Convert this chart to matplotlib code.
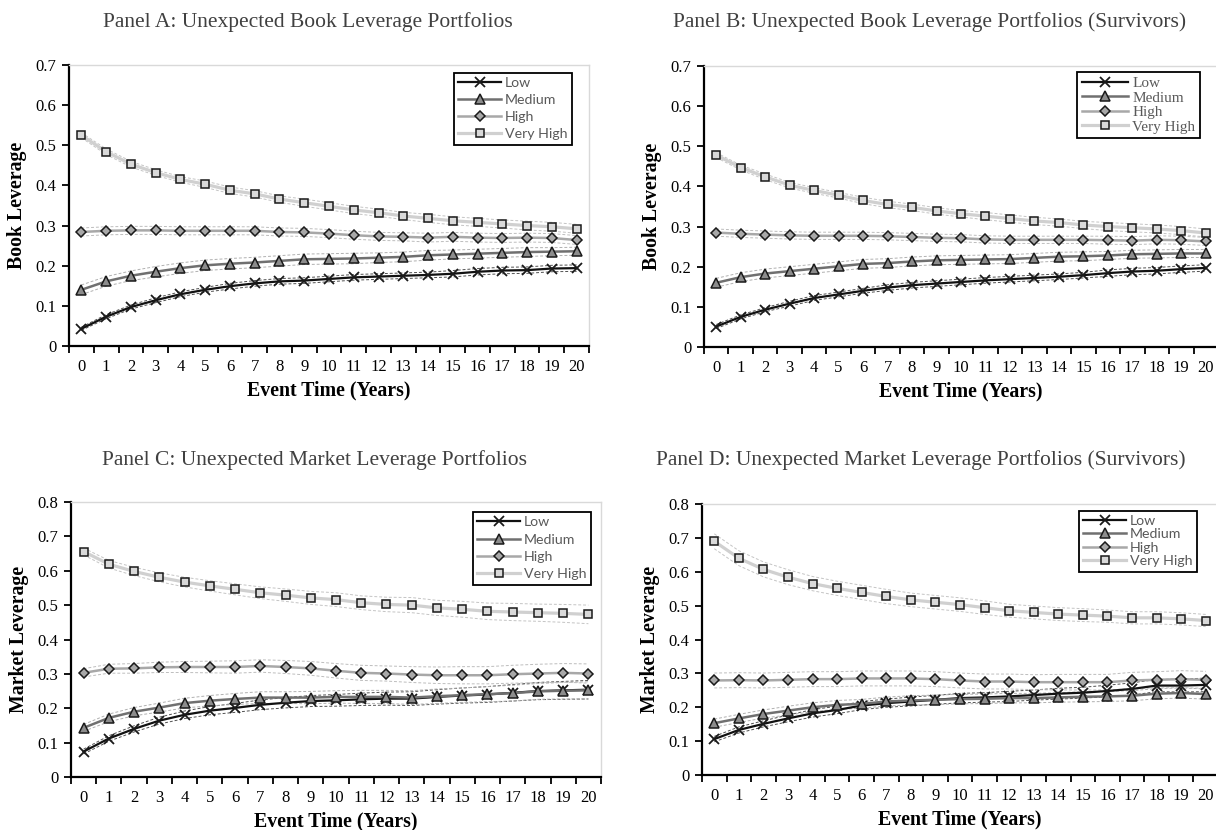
import matplotlib
matplotlib.use("Agg")
import matplotlib.pyplot as plt
import numpy as np

years = list(range(21))
series_names = ["Low", "Medium", "High", "Very High"]

# Panel A: unexpected book leverage portfolios
low_a = [0.043, 0.073, 0.097, 0.114, 0.129, 0.140, 0.149, 0.156, 0.161, 0.163, 0.167,
         0.171, 0.173, 0.175, 0.177, 0.180, 0.185, 0.188, 0.189, 0.193, 0.194]
med_a = [0.140, 0.161, 0.175, 0.185, 0.194, 0.201, 0.205, 0.208, 0.212, 0.216, 0.217,
         0.218, 0.220, 0.222, 0.226, 0.228, 0.230, 0.232, 0.234, 0.235, 0.236]
high_a = [0.284, 0.287, 0.288, 0.288, 0.287, 0.287, 0.287, 0.287, 0.284, 0.283, 0.280,
          0.276, 0.273, 0.272, 0.270, 0.272, 0.270, 0.269, 0.270, 0.269, 0.264]
vhigh_a = [0.525, 0.484, 0.453, 0.432, 0.415, 0.403, 0.388, 0.379, 0.366, 0.357, 0.348,
           0.339, 0.332, 0.324, 0.318, 0.312, 0.308, 0.304, 0.300, 0.297, 0.292]

# Panel B: book leverage, survivors
low_b = [0.051, 0.075, 0.093, 0.108, 0.122, 0.131, 0.140, 0.148, 0.154, 0.158, 0.162,
         0.166, 0.169, 0.172, 0.175, 0.179, 0.184, 0.188, 0.190, 0.194, 0.197]
med_b = [0.160, 0.174, 0.183, 0.189, 0.195, 0.201, 0.207, 0.209, 0.213, 0.216, 0.217,
         0.218, 0.219, 0.222, 0.225, 0.226, 0.228, 0.231, 0.232, 0.233, 0.233]
high_b = [0.285, 0.282, 0.280, 0.278, 0.277, 0.277, 0.277, 0.276, 0.274, 0.272, 0.271,
          0.268, 0.267, 0.267, 0.267, 0.267, 0.266, 0.265, 0.267, 0.266, 0.263]
vhigh_b = [0.478, 0.447, 0.424, 0.403, 0.390, 0.378, 0.365, 0.355, 0.348, 0.339, 0.332,
           0.326, 0.320, 0.314, 0.310, 0.304, 0.300, 0.297, 0.294, 0.290, 0.284]

# Panel C: unexpected market leverage portfolios
low_c = [0.074, 0.112, 0.140, 0.164, 0.181, 0.193, 0.201, 0.210, 0.216, 0.221, 0.223,
         0.226, 0.228, 0.228, 0.233, 0.237, 0.240, 0.245, 0.250, 0.252, 0.254]
med_c = [0.143, 0.172, 0.190, 0.202, 0.215, 0.222, 0.227, 0.231, 0.231, 0.231, 0.233,
         0.233, 0.233, 0.231, 0.235, 0.238, 0.241, 0.244, 0.249, 0.251, 0.252]
high_c = [0.303, 0.315, 0.316, 0.319, 0.320, 0.320, 0.320, 0.323, 0.320, 0.316, 0.309,
          0.303, 0.301, 0.298, 0.296, 0.296, 0.296, 0.299, 0.301, 0.303, 0.301]
vhigh_c = [0.656, 0.619, 0.598, 0.581, 0.567, 0.556, 0.546, 0.536, 0.529, 0.521, 0.516,
           0.507, 0.502, 0.500, 0.492, 0.488, 0.482, 0.480, 0.478, 0.476, 0.473]

# Panel D: market leverage, survivors
low_d = [0.106, 0.133, 0.151, 0.167, 0.182, 0.192, 0.205, 0.212, 0.217, 0.222, 0.227,
         0.229, 0.232, 0.236, 0.240, 0.243, 0.248, 0.254, 0.264, 0.264, 0.266]
med_d = [0.153, 0.167, 0.180, 0.190, 0.200, 0.207, 0.210, 0.217, 0.220, 0.222, 0.224,
         0.225, 0.227, 0.227, 0.229, 0.231, 0.232, 0.234, 0.240, 0.242, 0.239]
high_d = [0.279, 0.280, 0.279, 0.281, 0.283, 0.283, 0.285, 0.285, 0.285, 0.283, 0.279,
          0.276, 0.276, 0.274, 0.274, 0.274, 0.274, 0.279, 0.281, 0.283, 0.281]
vhigh_d = [0.690, 0.640, 0.607, 0.584, 0.565, 0.551, 0.539, 0.527, 0.517, 0.510, 0.503,
           0.494, 0.485, 0.480, 0.475, 0.472, 0.469, 0.464, 0.464, 0.461, 0.456]

# half widths of the dashed confidence bands
low_a_hw = [0.004, 0.005, 0.005, 0.006, 0.006, 0.006, 0.007, 0.007, 0.007, 0.007, 0.007,
            0.007, 0.007, 0.007, 0.007, 0.008, 0.008, 0.008, 0.008, 0.008, 0.008]
med_a_hw = [0.012, 0.012, 0.012, 0.013, 0.013, 0.013, 0.013, 0.013, 0.013, 0.013, 0.013,
            0.013, 0.012, 0.012, 0.012, 0.011, 0.011, 0.011, 0.011, 0.010, 0.010]
high_a_hw = [0.010, 0.010, 0.010, 0.010, 0.010, 0.010, 0.010, 0.010, 0.010, 0.010, 0.010,
             0.010, 0.010, 0.010, 0.011, 0.011, 0.011, 0.011, 0.011, 0.011, 0.011]
vhigh_a_hw = [0.006, 0.007, 0.007, 0.007, 0.007, 0.008, 0.008, 0.008, 0.008, 0.009, 0.009,
              0.009, 0.009, 0.009, 0.010, 0.010, 0.010, 0.010, 0.011, 0.011, 0.011]

low_b_hw = [0.005, 0.005, 0.005, 0.006, 0.006, 0.006, 0.006, 0.007, 0.007, 0.007, 0.007,
            0.007, 0.007, 0.007, 0.007, 0.007, 0.008, 0.008, 0.008, 0.008, 0.008]
med_b_hw = [0.011, 0.011, 0.011, 0.011, 0.011, 0.011, 0.011, 0.011, 0.011, 0.011, 0.011,
            0.011, 0.011, 0.011, 0.011, 0.011, 0.010, 0.010, 0.010, 0.010, 0.010]
high_b_hw = [0.009, 0.009, 0.009, 0.009, 0.009, 0.009, 0.009, 0.009, 0.009, 0.009, 0.009,
             0.009, 0.009, 0.009, 0.009, 0.009, 0.010, 0.010, 0.010, 0.010, 0.010]
vhigh_b_hw = [0.006, 0.006, 0.007, 0.007, 0.007, 0.007, 0.008, 0.008, 0.008, 0.008, 0.008,
              0.009, 0.009, 0.009, 0.009, 0.009, 0.010, 0.010, 0.010, 0.010, 0.010]

low_c_hw = [0.007, 0.008, 0.009, 0.010, 0.011, 0.012, 0.013, 0.014, 0.015, 0.016, 0.017,
            0.018, 0.019, 0.020, 0.021, 0.022, 0.023, 0.024, 0.025, 0.026, 0.027]
med_c_hw = [0.010, 0.011, 0.012, 0.013, 0.014, 0.015, 0.016, 0.017, 0.017, 0.018, 0.018,
            0.019, 0.019, 0.020, 0.021, 0.021, 0.022, 0.023, 0.023, 0.024, 0.025]
high_c_hw = [0.012, 0.013, 0.014, 0.015, 0.016, 0.017, 0.018, 0.018, 0.019, 0.020, 0.021,
             0.022, 0.022, 0.023, 0.024, 0.025, 0.025, 0.026, 0.027, 0.027, 0.028]
vhigh_c_hw = [0.010, 0.011, 0.012, 0.013, 0.014, 0.015, 0.016, 0.017, 0.018, 0.019, 0.020,
              0.020, 0.021, 0.022, 0.022, 0.023, 0.024, 0.025, 0.025, 0.026, 0.027]

low_d_hw = [0.008, 0.009, 0.009, 0.010, 0.011, 0.011, 0.012, 0.012, 0.013, 0.013, 0.014,
            0.014, 0.015, 0.015, 0.016, 0.016, 0.017, 0.018, 0.018, 0.019, 0.020]
med_d_hw = [0.012, 0.012, 0.012, 0.013, 0.013, 0.013, 0.013, 0.013, 0.014, 0.014, 0.014,
            0.014, 0.014, 0.014, 0.014, 0.015, 0.015, 0.015, 0.015, 0.015, 0.015]
high_d_hw = [0.022, 0.022, 0.022, 0.022, 0.022, 0.022, 0.022, 0.022, 0.022, 0.022, 0.022,
             0.022, 0.022, 0.022, 0.023, 0.023, 0.023, 0.024, 0.024, 0.025, 0.025]
vhigh_d_hw = [0.022, 0.022, 0.022, 0.022, 0.021, 0.021, 0.021, 0.021, 0.020, 0.020, 0.020,
              0.020, 0.019, 0.019, 0.019, 0.019, 0.018, 0.018, 0.018, 0.018, 0.018]

titles = ["Panel A: Unexpected Book Leverage Portfolios",
          "Panel B: Unexpected Book Leverage Portfolios (Survivors)",
          "Panel C: Unexpected Market Leverage Portfolios",
          "Panel D: Unexpected Market Leverage Portfolios (Survivors)"]
ylabels = ["Book Leverage", "Book Leverage", "Market Leverage", "Market Leverage"]
ymax = [0.7, 0.7, 0.8, 0.8]

panels = [
    [(low_a, low_a_hw), (med_a, med_a_hw), (high_a, high_a_hw), (vhigh_a, vhigh_a_hw)],
    [(low_b, low_b_hw), (med_b, med_b_hw), (high_b, high_b_hw), (vhigh_b, vhigh_b_hw)],
    [(low_c, low_c_hw), (med_c, med_c_hw), (high_c, high_c_hw), (vhigh_c, vhigh_c_hw)],
    [(low_d, low_d_hw), (med_d, med_d_hw), (high_d, high_d_hw), (vhigh_d, vhigh_d_hw)],
]

# line colour, line width, marker, marker face, marker size, band colour
styles = [
    ("#111111", 1.6, "x", "#111111", 6.5, "#505050"),
    ("#707070", 1.8, "^", "#8c8c8c", 6.5, "#b0b0b0"),
    ("#a8a8a8", 1.8, "D", "#a8a8a8", 4.8, "#bdbdbd"),
    ("#d0d0d0", 2.3, "s", "#d9d9d9", 6.4, "#c4c4c4"),
]

W, H = 1216, 830
# axes boxes in pixels: left, top, right, bottom
boxes = [(69, 65, 589, 346), (704, 66, 1218, 347), (71, 502, 601, 777), (702, 504, 1218, 775)]
title_pos = [(308, 22), (930, 22), (315, 460), (921, 460)]
legend_anchor = [(0.967, 0.972), (0.965, 0.979), (0.981, 0.964), (0.959, 0.975)]
legend_font = [("Lato", 10.2), ("Liberation Serif", 11), ("Lato", 10.2), ("Lato", 10.2)]
legend_spacing = [0.36, 0.05, 0.38, 0.1]

plt.rcParams['font.family'] = ['Liberation Serif', 'DejaVu Serif']

fig = plt.figure(figsize=(W / 100, H / 100), dpi=100)

for i in range(4):
    l, t, r, b = boxes[i]
    ax = fig.add_axes([l / W, 1 - b / H, (r - l) / W, (b - t) / H])
    handles = []
    for (vals, hw), st in zip(panels[i], styles):
        vals = np.array(vals)
        hw = np.array(hw)
        color, lw, mk, mface, ms, bcolor = st
        ax.plot(years, vals + hw, color=bcolor, lw=0.7, ls=(0, (3, 2)), zorder=2)
        ax.plot(years, vals - hw, color=bcolor, lw=0.7, ls=(0, (3, 2)), zorder=2)
    for k, ((vals, hw), st) in enumerate(zip(panels[i], styles)):
        color, lw, mk, mface, ms, bcolor = st
        h, = ax.plot(years, vals, color=color, lw=lw, marker=mk, markersize=ms,
                     markerfacecolor=mface, markeredgecolor="#1a1a1a",
                     markeredgewidth=1.1 if mk != "x" else 1.3, zorder=3 + k,
                     label=series_names[k])
        handles.append(h)

    ax.set_xlim(-0.5, 20.5)
    ax.set_ylim(0, ymax[i])
    ax.set_xticks(years)
    ax.set_xticks(np.arange(-0.5, 21, 1), minor=True)
    ax.set_yticks(np.round(np.arange(0, ymax[i] + 0.001, 0.1), 1))
    ax.set_yticklabels(["0"] + ["%.1f" % v for v in np.arange(0.1, ymax[i] + 0.001, 0.1)])
    ax.tick_params(axis="x", which="major", length=0, pad=9, labelsize=12)
    ax.tick_params(axis="x", which="minor", length=5, width=1.3, direction="out")
    ax.tick_params(axis="y", length=5, width=1.3, direction="out", labelsize=12, pad=4)
    for s in ["left", "bottom"]:
        ax.spines[s].set_linewidth(1.6)
        ax.spines[s].set_color("#000000")
    for s in ["top", "right"]:
        ax.spines[s].set_linewidth(1.0)
        ax.spines[s].set_color("#d9d9d9")

    ax.set_xlabel("Event Time (Years)", fontsize=14.3, fontweight="bold", labelpad=4)
    ax.set_ylabel(ylabels[i], fontsize=14.3, fontweight="bold", labelpad=6)

    fam, fsize = legend_font[i]
    leg = ax.legend(handles=handles, loc="upper right", bbox_to_anchor=legend_anchor[i],
                    prop={"family": fam, "size": fsize}, labelcolor="#595959",
                    frameon=True, fancybox=False, edgecolor="#000000", framealpha=1,
                    borderpad=0.3, labelspacing=legend_spacing[i], handlelength=3.0,
                    handletextpad=0.3, borderaxespad=0, numpoints=1)
    leg.get_frame().set_linewidth(1.3)
    leg.set_zorder(10)

    tx, ty = title_pos[i]
    fig.text(tx / W, 1 - ty / H, titles[i], ha="center", va="center", fontsize=15.5,
             color="#404040")

fig.savefig("out.png", dpi=100)
